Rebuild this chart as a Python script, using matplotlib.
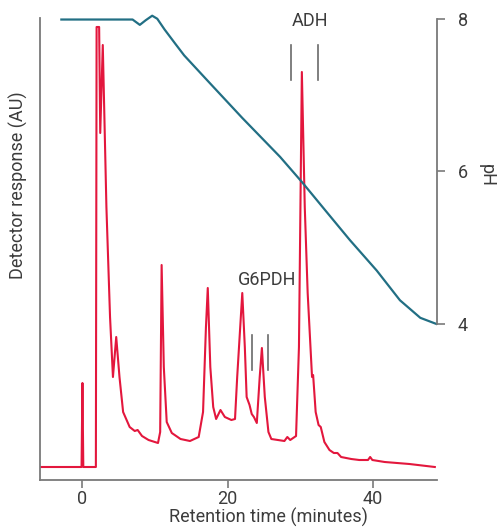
import matplotlib
matplotlib.use("Agg")
import matplotlib.pyplot as plt
from matplotlib import font_manager

# --- data -------------------------------------------------------------
# detector trace (retention time in minutes, response in AU)
trace_time = [-5.84, -0.12, 0.0, 0.12, 1.85, 1.95, 2.3, 2.45, 2.8, 3.3, 3.8, 4.2,
              4.65, 5.1, 5.6, 6.5, 7.2, 7.6, 8.2, 9.1, 10.4, 10.7, 10.9, 11.2,
              11.6, 12.3, 13.5, 14.8, 16.0, 16.6, 17.0, 17.25, 17.6, 18.0, 18.4,
              19.0, 19.6, 20.5, 21.0, 21.3, 22.0, 22.35, 22.6, 23.0, 23.3, 23.6,
              24.0, 24.4, 24.7, 25.1, 25.6, 26.0, 27.8, 28.2, 28.6, 29.4, 29.8,
              30.2, 30.6, 31.0, 31.6, 31.75, 32.1, 32.5, 32.8, 33.3, 34.0, 34.6,
              35.1, 35.6, 37.0, 38.1, 39.3, 39.6, 39.9, 41.6, 45.0, 48.5]
trace_au = [0.0, 0.0, 0.84, 0.0, 0.0, 4.40, 4.40, 3.34, 4.22, 2.6, 1.5, 0.90,
            1.30, 0.90, 0.55, 0.40, 0.36, 0.37, 0.31, 0.27, 0.24, 0.35, 2.02, 1.0,
            0.45, 0.34, 0.28, 0.26, 0.30, 0.55, 1.40, 1.79, 1.0, 0.60, 0.48,
            0.57, 0.50, 0.47, 0.48, 0.90, 1.74, 1.20, 0.70, 0.62, 0.53, 0.50,
            0.44, 0.90, 1.19, 0.70, 0.35, 0.28, 0.26, 0.30, 0.27, 0.31, 1.20,
            3.95, 2.60, 1.74, 0.90, 0.92, 0.55, 0.42, 0.40, 0.25, 0.17, 0.14,
            0.14, 0.10, 0.08, 0.07, 0.07, 0.10, 0.07, 0.05, 0.03, 0.0]

# pH gradient
ph_time = [-2.9, 6.9, 7.9, 8.7, 9.6, 10.3, 11.3, 12.8, 14.0, 17.5, 22.0, 27.2,
           30.3, 33.5, 36.8, 40.5, 43.7, 46.5, 48.7]
ph_value = [7.99, 7.99, 7.92, 7.98, 8.04, 8.0, 7.86, 7.67, 7.52, 7.16, 6.70, 6.19,
            5.85, 5.48, 5.10, 4.70, 4.31, 4.08, 4.0]

# peak markers (time pairs) and labels
adh_marks = [28.7, 32.4]
g6pdh_marks = [23.4, 25.6]
x_ticks = [0, 20, 40]
ph_ticks = [4, 6, 8]

# --- style ------------------------------------------------------------
narrow = [f for f in ["Liberation Sans Narrow", "Roboto", "DejaVu Sans"]
          if any(f == e.name for e in font_manager.fontManager.ttflist)]
plt.rcParams["font.family"] = narrow
text_col = "#3c3c3c"
spine_col = "#7a7a7a"
red = "#e3173d"
teal = "#226f84"

W, H = 498, 528
fig = plt.figure(figsize=(W / 100, H / 100), dpi=100)
left, right, top, bottom = 40, 437, 18, 480
ax = fig.add_axes([left / W, 1 - bottom / H, (right - left) / W, (bottom - top) / H])


def frac_x(px):
    return (px - left) / (right - left)


def frac_y(py):
    return (bottom - py) / (bottom - top)


ax.plot(trace_time, trace_au, color=red, lw=1.5, solid_joinstyle="round")
ax.set_xlim(-5.84, 48.8)
ax.set_ylim(-0.13, 4.49)

for s in ["top", "right"]:
    ax.spines[s].set_visible(False)
for s in ["left", "bottom"]:
    ax.spines[s].set_color(spine_col)
    ax.spines[s].set_linewidth(1.3)
ax.set_yticks([])
ax.set_xticks(x_ticks)
ax.tick_params(axis="x", length=6, width=1.2, color=spine_col, labelsize=13,
               labelcolor=text_col, pad=1)
ax.set_xlabel("Retention time (minutes)", fontsize=13, color=text_col,
              va="center", ha="center")
ax.xaxis.set_label_coords(frac_x(268), frac_y(517))
ax.set_ylabel("Detector response (AU)", fontsize=13, color=text_col,
              va="center", ha="center")
ax.yaxis.set_label_coords(frac_x(18), frac_y(185))

# peak annotations
for t in adh_marks:
    ax.plot([t, t], [3.87, 4.22], color="#6a6a6a", lw=1.2)
ax.text(31.3, 4.46, "ADH", ha="center", va="center", fontsize=13, color=text_col)
for t in g6pdh_marks:
    ax.plot([t, t], [0.97, 1.32], color="#6a6a6a", lw=1.2)
ax.text(25.4, 1.87, "G6PDH", ha="center", va="center", fontsize=13, color=text_col)

# pH axis on the right
ax2 = ax.twinx()
ax2.set_position(ax.get_position())
ax2.plot(ph_time, ph_value, color=teal, lw=1.6, clip_on=False)
ax2.set_ylim(1.954, 8.01)
for s in ["top", "left", "bottom"]:
    ax2.spines[s].set_visible(False)
ax2.spines["right"].set_bounds(4, 8)
ax2.spines["right"].set_color(spine_col)
ax2.spines["right"].set_linewidth(1.3)
ax2.set_yticks(ph_ticks)
ax2.tick_params(axis="y", length=6, width=1.2, color=spine_col, labelsize=13,
                labelcolor=text_col, pad=9)
ax2.set_ylabel("pH", fontsize=13, color=text_col, rotation=270,
               va="center", ha="center")
ax2.yaxis.set_label_coords(frac_x(487), frac_y(175))

fig.savefig("out.png", dpi=100)
